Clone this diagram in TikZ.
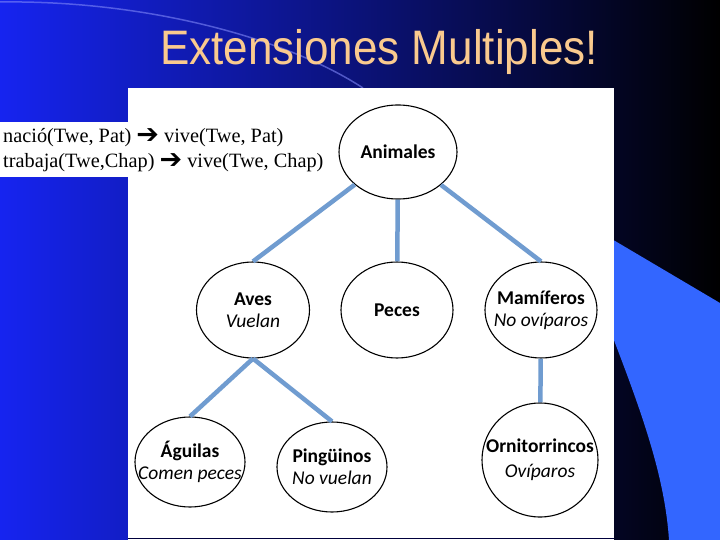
\documentclass[tikz,border=0pt]{standalone}
\usepackage{fontspec}
\setmainfont{Liberation Serif}
\newfontfamily\titlefont{Liberation Sans}
\newfontfamily\boxfont{Carlito}
\newfontfamily\arrowfont{DejaVu Sans}
\usetikzlibrary{shapes.geometric}
\definecolor{slideblue}{RGB}{22,36,240}
\definecolor{slidemid}{RGB}{10,22,200}
\definecolor{brightblue}{RGB}{51,102,255}
\definecolor{titletan}{RGB}{250,202,142}
\definecolor{linkblue}{RGB}{112,156,208}
\definecolor{navyline}{RGB}{0,0,60}
\newcommand{\impl}{{\arrowfont\fontsize{27}{20}\selectfont\raisebox{-1pt}{➔}}}
\begin{document}
\begin{tikzpicture}[x=1pt,y=-1pt,
  taxon/.style={ellipse,draw=black,line width=1.1pt,fill=white,inner sep=0pt,
    minimum width=112pt,minimum height=96pt},
  link/.style={linkblue,line width=4.5pt},
  every label/.append style={font=\boxfont\fontsize{19.5}{22}\selectfont,align=center}]
\useasboundingbox (0,0) rectangle (720,540);
% slide background
\shade[left color=slideblue,middle color=slidemid,right color=black] (0,0) rectangle (720,540);
\draw[white!45!slideblue,opacity=.6,line width=1.5pt] (0,2) .. controls (150,0) and (290,40) .. (363,88);
\fill[brightblue] (610,238) -- (720,303) -- (720,540) -- (669,540)
  .. controls (665,480) and (645,420) .. (610,330) -- cycle;
\fill[white] (128,88) rectangle (614,540);
\draw[navyline,line width=1.5pt] (128,538.5) -- (614,538.5);
% title
\node[titletan,anchor=base,font=\titlefont\fontsize{44}{50}\selectfont] (title) at (379,65) {\scalebox{1}[1.1]{Extensiones Multiples!}};
% rules
\fill[white] (0,122) rectangle (325,177);
\node[anchor=base west,inner sep=0pt,font=\fontsize{20.3}{25}\selectfont] (rule1) at (3,143) {nació(Twe, Pat) \impl{} vive(Twe, Pat)};
\node[anchor=base west,inner sep=0pt,font=\fontsize{20.3}{25}\selectfont] (rule2) at (3,168) {trabaja(Twe,Chap) \impl{} vive(Twe, Chap)};
% tree
\node[taxon,minimum width=118pt,minimum height=94pt,label=center:{\textbf{Animales}}] (anim) at (398,152) {};
\node[taxon,minimum width=113pt,label=center:{\textbf{Aves}\\\textit{Vuelan}}] (aves) at (253,310) {};
\node[taxon,label=center:{\textbf{Peces}}] (peces) at (397,310) {};
\node[taxon,label=center:{\textbf{Mamíferos}\\\textit{No ovíparos}}] (mamif) at (541,310) {};
\node[taxon,minimum width=110pt,minimum height=90pt,label=center:{\textbf{Águilas}\\\textit{Comen peces}}] (aguilas) at (190,462) {};
\node[taxon,minimum width=110pt,minimum height=90pt,label=center:{\textbf{Pingüinos}\\\textit{No vuelan}}] (pinguinos) at (332,467) {};
\node[taxon,minimum width=116pt,minimum height=114pt,label=center:{\textbf{Ornitorrincos}\\[3pt]\textit{Ovíparos}}] (orni) at (540,460) {};
\draw[link] (anim) -- (aves.north);
\draw[link] (anim) -- (peces);
\draw[link] (anim) -- (mamif.north);
\draw[link] (aves.south) -- (aguilas.north);
\draw[link] (aves.south) -- (pinguinos.north);
\draw[link] (mamif) -- (orni);
\end{tikzpicture}
\end{document}
